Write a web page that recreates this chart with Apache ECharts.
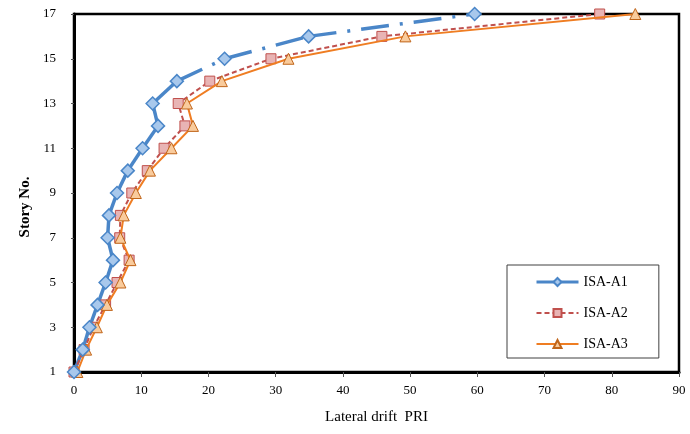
<!DOCTYPE html>
<html>
<head>
<meta charset="utf-8">
<script src="https://cdn.jsdelivr.net/npm/echarts@6/dist/echarts.min.js"></script>
<style>html,body{margin:0;padding:0;background:#fff;}#c{width:690px;height:434px;}</style>
</head>
<body>
<div id="c"></div>
<script>
const stories = [1, 2, 3, 4, 5, 6, 7, 8, 9, 10, 11, 12, 13, 14, 15, 16, 17];
const seriesNames = ['ISA-A1', 'ISA-A2', 'ISA-A3'];
const driftA1 = [0, 1.3, 2.3, 3.5, 4.7, 5.8, 5.0, 5.2, 6.4, 8.0, 10.2, 12.5, 11.7, 15.3, 22.4, 34.9, 59.6];
const driftA2 = [0, 1.5, 2.9, 4.7, 6.4, 8.2, 6.8, 6.9, 8.6, 10.9, 13.4, 16.5, 15.5, 20.2, 29.3, 45.8, 78.2];
const driftA3 = [0.5, 1.8, 3.4, 4.9, 6.9, 8.4, 6.9, 7.4, 9.2, 11.3, 14.5, 17.7, 16.8, 22.0, 31.9, 49.3, 83.5];
const xTicks = [0, 10, 20, 30, 40, 50, 60, 70, 80, 90];
const yTicks = [1, 3, 5, 7, 9, 11, 13, 15, 17];

const FONT = 'Liberation Serif';
const pairs = arr => arr.map((v, i) => [v, stories[i]]);

const blue = '#4a86c8', red = '#c0504d', orange = '#ef7d22';

// Blue dash-dot pattern restarts on every segment (as in the source chart)
const a1Segments = [];
for (let i = 0; i < driftA1.length - 1; i++) {
  a1Segments.push({
    type: 'line',
    name: 'seg' + i,
    data: [[driftA1[i], stories[i]], [driftA1[i + 1], stories[i + 1]]],
    showSymbol: false,
    symbol: 'none',
    lineStyle: { color: blue, width: 3.5, type: [28, 11, 3, 11], cap: 'butt' },
    z: 2,
    silent: true
  });
}

const chart = echarts.init(document.getElementById('c'), null, { renderer: 'canvas' });
chart.setOption({
  animation: false,
  backgroundColor: '#fff',
  grid: { left: 74, right: 11, top: 14, bottom: 62, show: true, borderColor: '#000', borderWidth: 2.5, backgroundColor: 'transparent' },
  xAxis: {
    type: 'value', min: xTicks[0], max: xTicks[xTicks.length - 1], interval: 10,
    name: 'Lateral drift  PRI', nameLocation: 'middle', nameGap: 38,
    nameTextStyle: { fontFamily: FONT, fontSize: 15, color: '#000' },
    axisLine: { show: true, onZero: false, lineStyle: { color: '#000', width: 3 } },
    axisTick: { show: true, inside: false, length: 5, lineStyle: { color: '#555', width: 1 } },
    axisLabel: { fontFamily: FONT, fontSize: 13, color: '#000', margin: 12 },
    splitLine: { show: false }
  },
  yAxis: {
    type: 'value', min: yTicks[0], max: yTicks[yTicks.length - 1], interval: 2,
    axisLine: { show: true, onZero: false, lineStyle: { color: '#000', width: 3 } },
    axisTick: { show: true, inside: false, length: 3, lineStyle: { color: '#555', width: 1 } },
    axisLabel: { fontFamily: FONT, fontSize: 13, color: '#000', margin: 18 },
    splitLine: { show: false }
  },
  graphic: [{
    type: 'text', x: 25, y: 207, rotation: Math.PI / 2,
    style: { text: 'Story No.', font: 'bold 15px "Liberation Serif"', fill: '#000', textAlign: 'center', textVerticalAlign: 'middle' }
  }],
  legend: {
    orient: 'vertical', left: 507, top: 265,
    padding: [10, 31, 7, 28],
    itemWidth: 42, itemHeight: 10, itemGap: 17,
    borderColor: '#404040', borderWidth: 1, backgroundColor: '#fff',
    textStyle: { fontFamily: FONT, fontSize: 14, color: '#000' },
    data: [
      { name: seriesNames[0], lineStyle: { color: blue, width: 3, type: 'solid', opacity: 1 } },
      { name: seriesNames[1] },
      { name: seriesNames[2] }
    ]
  },
  series: [
    {
      type: 'line', name: seriesNames[0], data: pairs(driftA1),
      symbol: 'diamond', symbolSize: 13, showAllSymbol: true,
      lineStyle: { color: blue, width: 3, opacity: 0 },
      itemStyle: { color: '#a8c8ec', borderColor: blue, borderWidth: 1.5 },
      z: 5
    },
    ...a1Segments,
    {
      type: 'line', name: seriesNames[1], data: pairs(driftA2),
      symbol: 'rect', symbolSize: 10, showAllSymbol: true,
      lineStyle: { color: red, width: 2, type: [5, 3] },
      itemStyle: { color: '#e8b4b4', borderColor: red, borderWidth: 1 },
      z: 3
    },
    {
      type: 'line', name: seriesNames[2], data: pairs(driftA3),
      symbol: 'triangle', symbolSize: 11, showAllSymbol: true,
      lineStyle: { color: orange, width: 2 },
      itemStyle: { color: '#f9cb9c', borderColor: '#c0651a', borderWidth: 1 },
      z: 4
    }
  ]
});
</script>
</body>
</html>
